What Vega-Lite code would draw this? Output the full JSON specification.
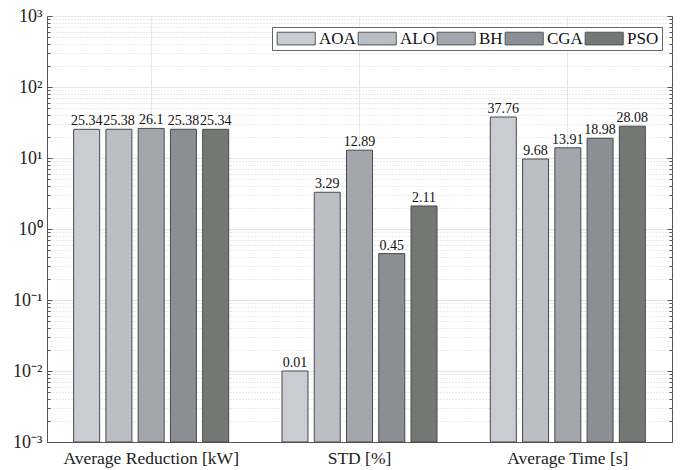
{
  "$schema": "https://vega.github.io/schema/vega-lite/v6.json",
  "width": 625,
  "height": 426,
  "autosize": {"type": "none"},
  "padding": {"left": 47, "top": 16, "right": 9, "bottom": 28},
  "background": "white",
  "config": {
    "font": "Liberation Serif",
    "view": {"stroke": "#555555", "strokeWidth": 1}
  },
  "data": {
    "values": [
      {"metric": "Average Reduction [kW]", "algo": "AOA", "value": 25.34, "label": "25.34"},
      {"metric": "Average Reduction [kW]", "algo": "ALO", "value": 25.38, "label": "25.38"},
      {"metric": "Average Reduction [kW]", "algo": "BH", "value": 26.1, "label": "26.1"},
      {"metric": "Average Reduction [kW]", "algo": "CGA", "value": 25.38, "label": "25.38"},
      {"metric": "Average Reduction [kW]", "algo": "PSO", "value": 25.34, "label": "25.34"},
      {"metric": "STD [%]", "algo": "AOA", "value": 0.01, "label": "0.01"},
      {"metric": "STD [%]", "algo": "ALO", "value": 3.29, "label": "3.29"},
      {"metric": "STD [%]", "algo": "BH", "value": 12.89, "label": "12.89"},
      {"metric": "STD [%]", "algo": "CGA", "value": 0.45, "label": "0.45"},
      {"metric": "STD [%]", "algo": "PSO", "value": 2.11, "label": "2.11"},
      {"metric": "Average Time [s]", "algo": "AOA", "value": 37.76, "label": "37.76"},
      {"metric": "Average Time [s]", "algo": "ALO", "value": 9.68, "label": "9.68"},
      {"metric": "Average Time [s]", "algo": "BH", "value": 13.91, "label": "13.91"},
      {"metric": "Average Time [s]", "algo": "CGA", "value": 18.98, "label": "18.98"},
      {"metric": "Average Time [s]", "algo": "PSO", "value": 28.08, "label": "28.08"}
    ]
  },
  "encoding": {
    "x": {
      "field": "metric",
      "type": "nominal",
      "sort": ["Average Reduction [kW]", "STD [%]", "Average Time [s]"],
      "scale": {"paddingInner": 0, "paddingOuter": 0},
      "axis": {
        "title": null,
        "labelAngle": 0,
        "labelFont": "Liberation Serif",
        "labelFontSize": 17.5,
        "labelColor": "#222222",
        "labelPadding": 12,
        "tickSize": -5,
        "tickColor": "#666666",
        "domainColor": "#555555",
        "grid": true,
        "gridColor": "#e8e8e8",
        "gridWidth": 1
      }
    },
    "xOffset": {
      "field": "algo",
      "type": "nominal",
      "sort": ["AOA", "ALO", "BH", "CGA", "PSO"],
      "scale": {"paddingInner": 0.194, "paddingOuter": 0.826}
    }
  },
  "layer": [
    {
      "mark": {"type": "bar", "stroke": "#4a4a4a", "strokeWidth": 1},
      "encoding": {
        "y": {
          "field": "value",
          "type": "quantitative",
          "scale": {"type": "log", "domain": [0.001, 1000], "nice": false},
          "axis": {
            "title": null,
            "values": [0.001,0.002,0.003,0.004,0.005,0.006,0.007,0.008,0.009,0.01,0.02,0.03,0.04,0.05,0.06,0.07,0.08,0.09,0.1,0.2,0.3,0.4,0.5,0.6,0.7,0.8,0.9,1,2,3,4,5,6,7,8,9,10,20,30,40,50,60,70,80,90,100,200,300,400,500,600,700,800,900,1000],
            "labelExpr": "datum.value==1000?'10³':datum.value==100?'10²':datum.value==10?'10¹':datum.value==1?'10⁰':datum.value==0.1?'10⁻¹':datum.value==0.01?'10⁻²':datum.value==0.001?'10⁻³':''",
            "labelFont": "Liberation Serif",
            "labelFontSize": 18,
            "labelColor": "#222222",
            "labelPadding": 10,
            "domainColor": "#555555",
            "tickColor": "#555555",
            "tickSize": {"condition": {"test": "indexof([0.001,0.01,0.1,1,10,100,1000], datum.value) >= 0", "value": -5}, "value": -3},
            "grid": true,
            "gridColor": {"condition": {"test": "indexof([0.001,0.01,0.1,1,10,100,1000], datum.value) >= 0", "value": "#e6e6e6"}, "value": "#d6d6d6"},
            "gridDash": {"condition": {"test": "indexof([0.001,0.01,0.1,1,10,100,1000], datum.value) >= 0", "value": []}, "value": [1, 2]}
          }
        },
        "y2": {"datum": 0.001},
        "color": {
          "field": "algo",
          "type": "nominal",
          "sort": ["AOA", "ALO", "BH", "CGA", "PSO"],
          "scale": {"domain": ["AOA", "ALO", "BH", "CGA", "PSO"], "range": ["#c9ccd2", "#bbbec4", "#a3a6ad", "#8b8e94", "#737875"]},
          "legend": {
            "title": null,
            "orient": "none",
            "legendX": 225,
            "legendY": 11,
            "direction": "horizontal",
            "columns": 5,
            "fillColor": "white",
            "strokeColor": "#666666",
            "padding": 3,
            "columnPadding": 0,
            "symbolType": "M-1,-1H5V1H-1Z",
            "symbolSize": 161,
            "symbolStrokeColor": "#555555",
            "symbolStrokeWidth": 1,
            "symbolOpacity": 1,
            "labelFont": "Liberation Serif",
            "labelFontSize": 17,
            "labelColor": "#111111",
            "labelOffset": 27
          }
        }
      }
    },
    {
      "mark": {"type": "text", "baseline": "bottom", "dy": -1, "fontSize": 14, "font": "Liberation Serif", "color": "#111111"},
      "encoding": {
        "y": {
          "field": "value",
          "type": "quantitative",
          "scale": {"type": "log", "domain": [0.001, 1000], "nice": false},
          "axis": {
            "orient": "right",
            "title": null,
            "labels": false,
            "grid": false,
            "domain": false,
            "values": [0.001,0.002,0.003,0.004,0.005,0.006,0.007,0.008,0.009,0.01,0.02,0.03,0.04,0.05,0.06,0.07,0.08,0.09,0.1,0.2,0.3,0.4,0.5,0.6,0.7,0.8,0.9,1,2,3,4,5,6,7,8,9,10,20,30,40,50,60,70,80,90,100,200,300,400,500,600,700,800,900,1000],
            "tickColor": "#555555",
            "tickSize": {"condition": {"test": "indexof([0.001,0.01,0.1,1,10,100,1000], datum.value) >= 0", "value": -5}, "value": -3}
          }
        },
        "text": {"field": "label"}
      }
    }
  ],
  "resolve": {"axis": {"y": "independent"}}
}
